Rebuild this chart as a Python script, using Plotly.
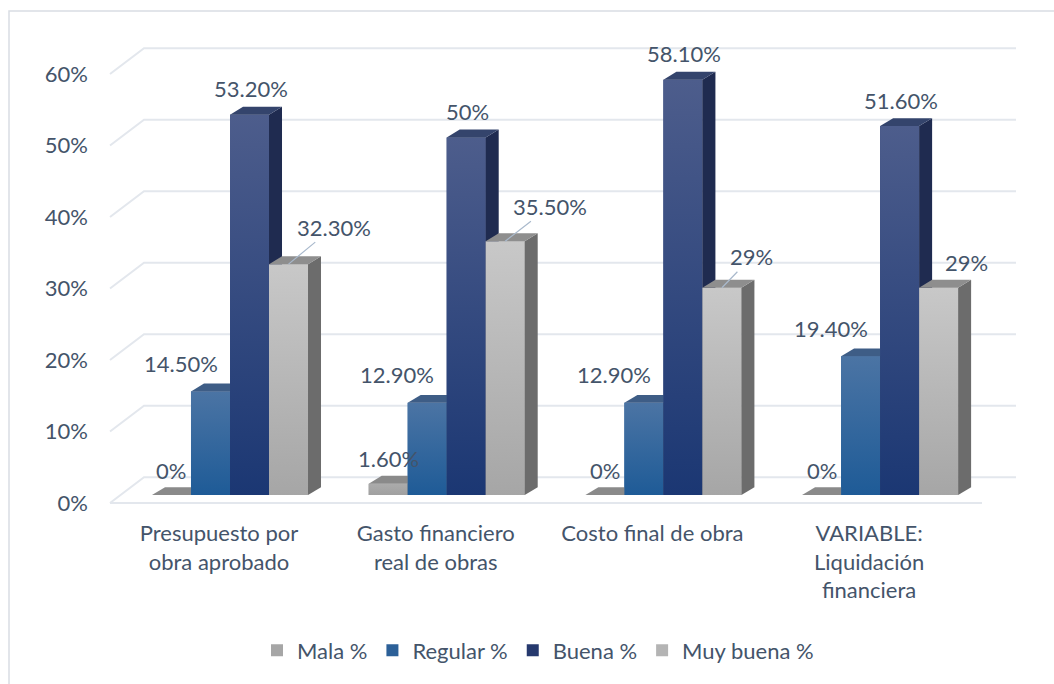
import plotly.graph_objects as go

# ---------------- data ----------------
categories = ["Presupuesto por<br>obra aprobado", "Gasto financiero<br>real de obras",
              "Costo final de obra", "VARIABLE:<br>Liquidación<br>financiera"]
series_names = ["Mala %", "Regular %", "Buena %", "Muy buena %"]
mala = [0.0, 1.6, 0.0, 0.0]
regular = [14.5, 12.9, 12.9, 19.4]
buena = [53.2, 50.0, 58.1, 51.6]
muy_buena = [32.3, 35.5, 29.0, 29.0]
mala_labels = ["0%", "1.60%", "0%", "0%"]
regular_labels = ["14.50%", "12.90%", "12.90%", "19.40%"]
buena_labels = ["53.20%", "50%", "58.10%", "51.60%"]
muy_buena_labels = ["32.30%", "35.50%", "29%", "29%"]
y_tick_values = [0, 10, 20, 30, 40, 50, 60]
y_tick_labels = ["0%", "10%", "20%", "30%", "40%", "50%", "60%"]

series_values = [mala, regular, buena, muy_buena]
series_labels = [mala_labels, regular_labels, buena_labels, muy_buena_labels]

# ---------------- styles ----------------
FONT = "Lato"
TXT = "#44546A"
FS = 22
W, H = 1054, 684
ML, MR, MT, MB = 100, 14, 30, 164
PX_X = 216.7          # px per category unit
PX_Y = 7.18           # px per percent
X_RANGE = [(ML - 230) / PX_X, (W - MR - 230) / PX_X]
Y_RANGE = [(497 - (H - MB)) / PX_Y, (497 - MT) / PX_Y]

BAR_W = 0.18
BARGAP = 1 - 4 * BAR_W
# depth offsets of the bar tops / sides (data units)
DX, DY = 13 / PX_X, 8 / PX_Y
# front / back wall offsets relative to bar plane
FDX, FDY = -10.5 / PX_X, -8 / PX_Y
BDX, BDY = 23.5 / PX_X, 18 / PX_Y
WALL_L, WALL_R = (120.5 - 230) / PX_X, (992.5 - 230) / PX_X
GRID = "#E3E7ED"

front_cols = [("#A0A0A0", "#ABABAB"), ("#1E5B97", "#4B74A4"),
              ("#1B3773", "#4D5D8C"), ("#A6A6A6", "#C8C8C8")]
side_cols = ["#6E6E6E", "#2E4C74", "#1F2B50", "#6C6C6C"]
top_cols = ["#8A8A8A", "#3E5D86", "#34446C", "#8E8E8E"]
legend_cols = ["#A6A6A6", "#2C6098", "#26396E", "#B4B4B4"]

# label placement: (xshift, yshift, arrow)
label_pos = [
    [(0, 25, False)] * 4,
    [(-30, 28, False)] * 4,
    [(1, 26, False)] * 4,
    [(45, 37, True), (45, 35, True), (30, 31, True), (28, 25, False)],
]

fig = go.Figure()

# legend / base bars
for k, name in enumerate(series_names):
    fig.add_trace(go.Bar(x=list(range(len(categories))), y=series_values[k], name=name,
                         marker=dict(color=legend_cols[k], line=dict(width=0)),
                         hoverinfo="skip"))

# 3D faces
for i in range(len(categories)):
    for k in range(4):
        v = series_values[k][i]
        xl = i + (k - 1.5) * BAR_W - BAR_W / 2
        xr = xl + BAR_W
        if v > 0:
            fig.add_trace(go.Scatter(
                x=[xl, xr, xr, xl, xl], y=[0, 0, v, v, 0], mode="lines",
                line=dict(width=0), fill="toself",
                fillgradient=dict(type="vertical",
                                  colorscale=[[0, front_cols[k][0]], [1, front_cols[k][1]]]),
                showlegend=False, hoverinfo="skip"))
            fig.add_trace(go.Scatter(
                x=[xr, xr + DX, xr + DX, xr, xr], y=[0, DY, v + DY, v, 0], mode="lines",
                line=dict(width=0), fill="toself", fillcolor=side_cols[k],
                showlegend=False, hoverinfo="skip"))
        fig.add_trace(go.Scatter(
            x=[xl, xl + DX, xr + DX, xr, xl], y=[v, v + DY, v + DY, v, v], mode="lines",
            line=dict(width=0), fill="toself", fillcolor=top_cols[k],
            showlegend=False, hoverinfo="skip"))

# gridlines on walls (shapes, below traces)
shapes = []
for t in y_tick_values:
    path = (f"M{WALL_L + FDX},{t + FDY} L{WALL_L + BDX},{t + BDY} "
            f"L{WALL_R + BDX},{t + BDY}")
    shapes.append(dict(type="path", path=path, xref="x", yref="y", layer="below",
                       line=dict(color=GRID, width=2)))
# floor front edge
shapes.append(dict(type="line", xref="x", yref="y", layer="below",
                   x0=WALL_L + FDX, y0=FDY, x1=WALL_R + FDX, y1=FDY,
                   line=dict(color=GRID, width=2)))


def px2paper_x(p):
    return (p - ML) / (W - ML - MR)


def px2paper_y(p):
    return (H - MB - p) / (H - MT - MB)


shapes.append(dict(type="rect", xref="paper", yref="paper", layer="below",
                   x0=px2paper_x(9), y0=px2paper_y(720), x1=px2paper_x(1080), y1=px2paper_y(11),
                   line=dict(color="#D9DDE3", width=1.5)))

annotations = []
for k in range(4):
    for i in range(len(categories)):
        v = series_values[k][i]
        xc = i + (k - 1.5) * BAR_W
        xs, ys, arrow = label_pos[k][i]
        if arrow:
            annotations.append(dict(x=xc, y=v, xref="x", yref="y", text=series_labels[k][i],
                                    showarrow=True, ax=xs, ay=-ys, arrowhead=0, arrowwidth=1.2,
                                    arrowcolor="#A9B9CC", standoff=0,
                                    font=dict(family=FONT, size=FS, color=TXT)))
        else:
            annotations.append(dict(x=xc, y=v, xref="x", yref="y", text=series_labels[k][i],
                                    showarrow=False, xshift=xs, yshift=ys,
                                    font=dict(family=FONT, size=FS, color=TXT)))

fig.update_layout(
    template="none",
    width=W, height=H, autosize=False,
    margin=dict(l=ML, r=MR, t=MT, b=MB),
    paper_bgcolor="white", plot_bgcolor="white",
    barmode="group", bargap=BARGAP, bargroupgap=0,
    font=dict(family=FONT, size=FS, color=TXT),
    xaxis=dict(range=X_RANGE, tickvals=list(range(len(categories))), ticktext=categories,
               showgrid=False, zeroline=False, showline=False, ticks="",
               ticklabelshift=-11, ticklabelstandoff=0, automargin=False,
               tickfont=dict(family=FONT, size=FS, color=TXT)),
    yaxis=dict(range=Y_RANGE, tickvals=y_tick_values, ticktext=y_tick_labels,
               showgrid=False, zeroline=False, showline=False, ticks="",
               ticklabelshift=8, ticklabelstandoff=11, automargin=False,
               tickfont=dict(family=FONT, size=FS, color=TXT)),
    legend=dict(orientation="h", x=px2paper_x(538), xanchor="center",
                y=px2paper_y(653), yanchor="middle",
                font=dict(family=FONT, size=FS, color=TXT), bgcolor="rgba(0,0,0,0)"),
    shapes=shapes,
    annotations=annotations,
)

fig.write_html("out.html", config={"displayModeBar": False},
               post_script="document.body.style.margin='0';")
